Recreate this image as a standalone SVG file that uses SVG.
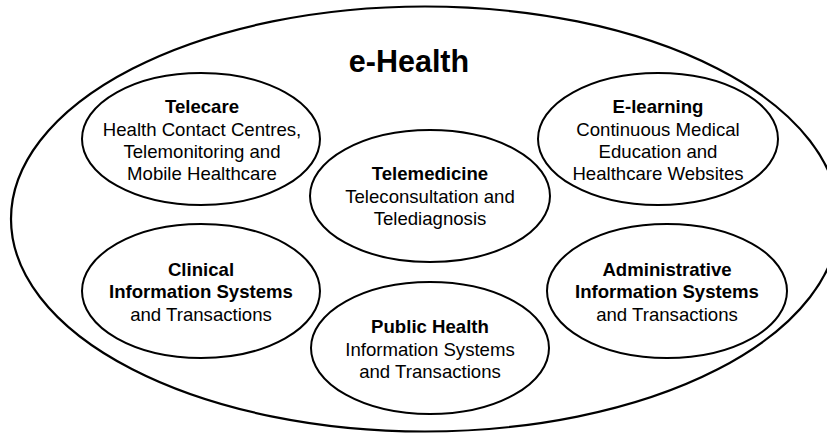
<svg xmlns="http://www.w3.org/2000/svg" width="827" height="433" viewBox="0 0 827 433">
<style>
  .shape { fill: #ffffff; stroke: #000000; stroke-width: 2; }
  .outer { fill: #ffffff; stroke: #000000; stroke-width: 2.2; }
  text { font-family: "Liberation Sans", Arial, Helvetica, sans-serif; font-size: 18.6px; fill: #000000; text-anchor: middle; }
  .b { font-weight: bold; }
  .title { font-size: 30.5px; font-weight: bold; }
</style>
<rect x="0" y="0" width="827" height="433" fill="#ffffff"/>
<g id="ehealth">
  <ellipse class="outer" cx="425" cy="219" rx="414" ry="212.5"/>
  <text class="title" x="409" y="71.5">e-Health</text>
</g>
<g id="connectors"></g>
<g id="telecare">
  <ellipse class="shape" cx="201" cy="139" rx="119" ry="66"/>
  <text class="b" x="202" y="113.3">Telecare</text>
  <text x="202" y="135.7">Health Contact Centres,</text>
  <text x="202" y="157.7">Telemonitoring and</text>
  <text x="202" y="180">Mobile Healthcare</text>
</g>
<g id="elearning">
  <ellipse class="shape" cx="658" cy="139" rx="120" ry="66"/>
  <text class="b" x="658" y="113.3">E-learning</text>
  <text x="658" y="135.5">Continuous Medical</text>
  <text x="658" y="157.7">Education and</text>
  <text x="658" y="180">Healthcare Websites</text>
</g>
<g id="telemedicine">
  <ellipse class="shape" cx="430" cy="196" rx="120" ry="66"/>
  <text class="b" x="430" y="180">Telemedicine</text>
  <text x="430" y="202.5">Teleconsultation and</text>
  <text x="430" y="225">Telediagnosis</text>
</g>
<g id="clinical">
  <ellipse class="shape" cx="201" cy="291" rx="119" ry="67"/>
  <text class="b" x="201" y="276">Clinical</text>
  <text class="b" x="201" y="298.3">Information Systems</text>
  <text x="201" y="320.5">and Transactions</text>
</g>
<g id="publichealth">
  <ellipse class="shape" cx="430" cy="348" rx="119" ry="66"/>
  <text class="b" x="430" y="333.3">Public Health</text>
  <text x="430" y="355.5">Information Systems</text>
  <text x="430" y="378">and Transactions</text>
</g>
<g id="administrative">
  <ellipse class="shape" cx="667" cy="291" rx="120" ry="67"/>
  <text class="b" x="667" y="276">Administrative</text>
  <text class="b" x="667" y="298.3">Information Systems</text>
  <text x="667" y="321">and Transactions</text>
</g>
</svg>
